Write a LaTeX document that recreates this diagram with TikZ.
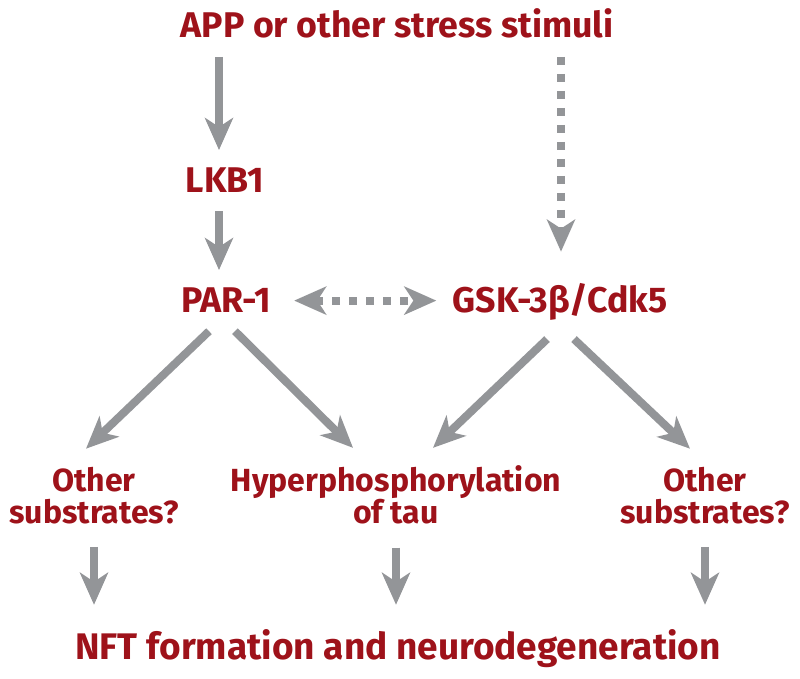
\documentclass[tikz,border=0pt]{standalone}
\usepackage{fontspec}
\setmainfont{Fira Sans}
\usepackage{xcolor}
\usetikzlibrary{arrows.meta,calc}
\definecolor{darkred}{RGB}{158,18,26}
\definecolor{arrowgray}{RGB}{147,149,152}

\begin{document}
\begin{tikzpicture}[x=1pt,y=1pt,
  >={Stealth[length=32pt,width=28pt,inset=9pt]},
  big/.style={text=darkred,font=\bfseries\fontsize{35.7}{40}\selectfont,inner xsep=0pt,inner ysep=18pt},
  small/.style={text=darkred,font=\bfseries\fontsize{32}{32}\selectfont,align=center,inner xsep=0pt,inner ysep=18pt},
  arr/.style={draw=arrowgray,line width=8pt,->},
  dots/.style={arr,dash pattern=on 8pt off 9pt}]
\useasboundingbox (0,0) rectangle (800,679);
\node[big,anchor=base] (app) at (397,641) {APP or other stress stimuli};
\node[big,anchor=base] (lkb) at (225,486) {LKB1};
\node[big,anchor=base] (par) at (226,366) {PAR-1};
\node[big,anchor=base] (gsk) at (560,366) {GSK-3β/Cdk5};
\node[small] (oth1) at (94,183.7) {Other\\substrates?};
\node[small] (hyp) at (396,183.7) {Hyperphosphorylation\\of tau};
\node[small] (oth2) at (705,183.7) {Other\\substrates?};
\node[big,font=\bfseries\fontsize{37}{40}\selectfont,anchor=base] (nft) at (398,19) {NFT formation and neurodegeneration};

\draw[arr] ($(app.south -| lkb.north)+(-6,0)$) -- ($(lkb.north)+(-6,0)$);
\draw[arr] ($(lkb.south)+(-6,0)$) -- ($(par.north)+(-7,0)$);
\draw[dots,shorten >=14pt] ($(app.south -| gsk.north)+(1,0)$) -- ($(gsk.north)+(1,0)$);
\draw[dots,<->,shorten <=23pt,shorten >=16pt] (par.east) -- (par.east -| gsk.west);
\draw[arr] ($(par.south)+(-17,0)$) -- ($(oth1.north)+(-8,0)$);
\draw[arr] ($(par.south)+(9,0)$) -- ($(hyp.north)+(-43,0)$);
\draw[arr] ($(gsk.south)+(-13,0)$) -- ($(hyp.north)+(37,0)$);
\draw[arr] ($(gsk.south)+(14,0)$) -- ($(oth2.north)+(-15,0)$);
\draw[arr,shorten <=5pt,shorten >=7pt] (oth1.south) -- (oth1.south |- nft.north);
\draw[arr,shorten <=5pt,shorten >=7pt] (hyp.south) -- (hyp.south |- nft.north);
\draw[arr,shorten <=5pt,shorten >=7pt] (oth2.south) -- (oth2.south |- nft.north);
\end{tikzpicture}
\end{document}
